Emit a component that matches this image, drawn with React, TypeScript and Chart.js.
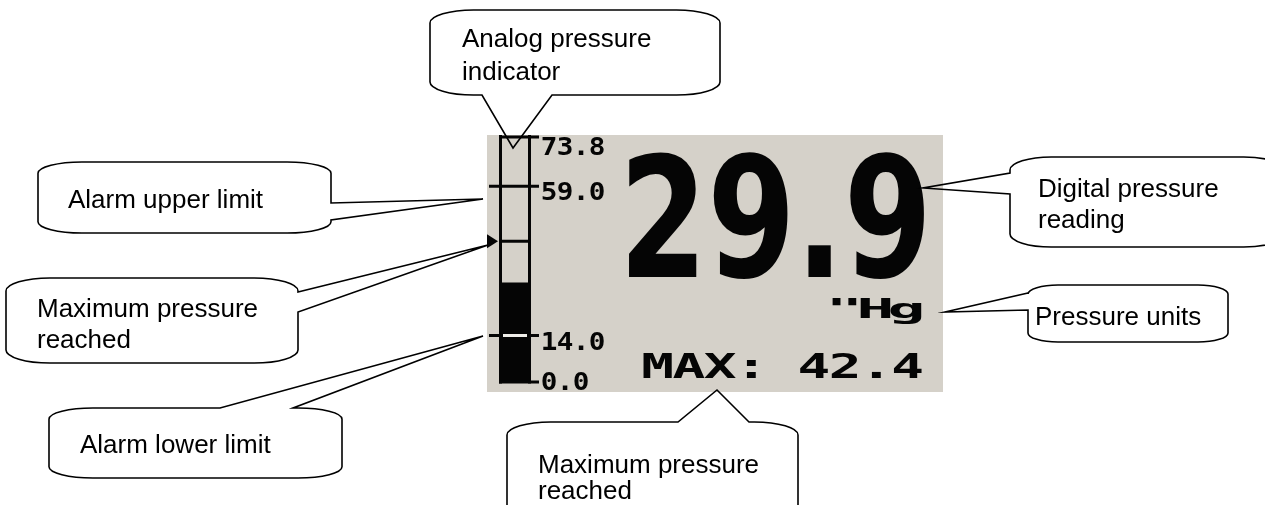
import React, { useEffect, useRef } from "react";
import { Chart, registerables } from "chart.js";

Chart.register(...registerables);

// ---------- data ----------
const gaugeCategories = ["Pressure"];
const currentPressure = [29.9];
const maxPressureReached = 42.4;
const alarmLowerLimit = 14.0;
const alarmUpperLimit = 59.0;
const scaleMin = 0.0;
const scaleMax = 73.8;
const tickValues = [0.0, 14.0, 59.0, 73.8];
const tickLabels = ["0.0", "14.0", "59.0", "73.8"];
const readingText = "29.9";
const unitText = '"Hg';
const maxLineText = "MAX: 42.4";

const calloutAnalog = ["Analog pressure", "indicator"];
const calloutUpper = ["Alarm upper limit"];
const calloutMaxLeft = ["Maximum pressure", "reached"];
const calloutLower = ["Alarm lower limit"];
const calloutDigital = ["Digital pressure", "reading"];
const calloutUnits = ["Pressure units"];
const calloutMaxBottom = ["Maximum pressure", "reached"];

// ---------- layout / style ----------
const W = 1265;
const H = 505;
const PANEL = { x: 487, y: 135, w: 456, h: 257 };
const PANEL_COLOR = "#d5d1c9";
const LCD = "#050505";
const LCD_LIGHT = "#efede8";
const CALLOUT_FONT = "26px 'Liberation Sans', Arial, sans-serif";

type Side = "top" | "bottom" | "left" | "right";
interface Callout {
  box: [number, number, number, number];
  side: Side;
  base: [number, number];
  apex: [number, number];
  lines: string[];
  tx: number;
  baselines: number[];
}

const callouts: Callout[] = [
  { box: [430, 10, 720, 95], side: "bottom", base: [482, 552], apex: [513, 148], lines: calloutAnalog, tx: 462, baselines: [47, 80] },
  { box: [38, 162, 331, 233], side: "right", base: [203, 220], apex: [483, 199], lines: calloutUpper, tx: 68, baselines: [208] },
  { box: [6, 278, 298, 363], side: "right", base: [292, 312], apex: [488, 245], lines: calloutMaxLeft, tx: 37, baselines: [317, 348] },
  { box: [49, 408, 342, 478], side: "top", base: [220, 293], apex: [483, 336], lines: calloutLower, tx: 80, baselines: [453] },
  { box: [1010, 157, 1285, 247], side: "left", base: [173, 194], apex: [923, 188], lines: calloutDigital, tx: 1038, baselines: [197, 228] },
  { box: [1028, 285, 1228, 342], side: "left", base: [293, 310], apex: [945, 312], lines: calloutUnits, tx: 1035, baselines: [325] },
  { box: [507, 422, 798, 520], side: "top", base: [678, 749], apex: [717, 390], lines: calloutMaxBottom, tx: 538, baselines: [473, 499] },
];

function drawCallout(ctx: CanvasRenderingContext2D, c: Callout) {
  const [x1, y1, x2, y2] = c.box;
  const w = x2 - x1;
  const h = y2 - y1;
  const rx = Math.min(w * 0.15, 46);
  const ry = Math.min(h * 0.16, 13);
  const k = 0.55;
  const [a, b] = c.base;
  const [ax, ay] = c.apex;
  ctx.beginPath();
  ctx.moveTo(x1 + rx, y1);
  if (c.side === "top") {
    ctx.lineTo(a, y1);
    ctx.lineTo(ax, ay);
    ctx.lineTo(b, y1);
  }
  ctx.lineTo(x2 - rx, y1);
  ctx.bezierCurveTo(x2 - rx + rx * k, y1, x2, y1 + ry - ry * k, x2, y1 + ry);
  if (c.side === "right") {
    ctx.lineTo(x2, a);
    ctx.lineTo(ax, ay);
    ctx.lineTo(x2, b);
  }
  ctx.lineTo(x2, y2 - ry);
  ctx.bezierCurveTo(x2, y2 - ry + ry * k, x2 - rx + rx * k, y2, x2 - rx, y2);
  if (c.side === "bottom") {
    ctx.lineTo(b, y2);
    ctx.lineTo(ax, ay);
    ctx.lineTo(a, y2);
  }
  ctx.lineTo(x1 + rx, y2);
  ctx.bezierCurveTo(x1 + rx - rx * k, y2, x1, y2 - ry + ry * k, x1, y2 - ry);
  if (c.side === "left") {
    ctx.lineTo(x1, b);
    ctx.lineTo(ax, ay);
    ctx.lineTo(x1, a);
  }
  ctx.lineTo(x1, y1 + ry);
  ctx.bezierCurveTo(x1, y1 + ry - ry * k, x1 + rx - rx * k, y1, x1 + rx, y1);
  ctx.closePath();
  ctx.lineWidth = 1.6;
  ctx.strokeStyle = "#000";
  ctx.stroke();
  ctx.fillStyle = "#000";
  ctx.font = CALLOUT_FONT;
  ctx.textAlign = "left";
  ctx.textBaseline = "alphabetic";
  c.lines.forEach((t, i) => ctx.fillText(t, c.tx, c.baselines[i]));
}

function drawMono(
  ctx: CanvasRenderingContext2D,
  text: string,
  x0: number,
  baseline: number,
  size: number,
  adv: number,
  sx: number
) {
  ctx.font = `bold ${size}px 'DejaVu Sans Mono', monospace`;
  ctx.textAlign = "center";
  ctx.textBaseline = "alphabetic";
  ctx.fillStyle = LCD;
  for (let i = 0; i < text.length; i++) {
    const ch = text[i];
    if (ch === " ") continue;
    ctx.save();
    ctx.translate(x0 + adv * (i + 0.5), baseline);
    ctx.scale(sx, 1);
    ctx.fillText(ch, 0, 0);
    ctx.restore();
  }
}

function line(ctx: CanvasRenderingContext2D, xa: number, ya: number, xb: number, yb: number) {
  ctx.beginPath();
  ctx.moveTo(xa, ya);
  ctx.lineTo(xb, yb);
  ctx.stroke();
}

const backgroundPlugin = {
  id: "lcdBackground",
  beforeDraw(chart: any) {
    const ctx = chart.ctx as CanvasRenderingContext2D;
    ctx.save();
    ctx.fillStyle = "#ffffff";
    ctx.fillRect(0, 0, W, H);
    ctx.fillStyle = PANEL_COLOR;
    ctx.fillRect(PANEL.x, PANEL.y, PANEL.w, PANEL.h);
    ctx.restore();
  },
};

const overlayPlugin = {
  id: "lcdOverlay",
  afterDraw(chart: any) {
    const ctx = chart.ctx as CanvasRenderingContext2D;
    const ys = chart.scales.y;
    const bar = chart.getDatasetMeta(0).data[0] as any;
    const left = bar.x - bar.width / 2;
    const right = bar.x + bar.width / 2;
    const yZero = ys.getPixelForValue(scaleMin);
    const fillTop = ys.getPixelForValue(currentPressure[0]);

    ctx.save();
    ctx.beginPath();
    ctx.rect(PANEL.x, PANEL.y, PANEL.w, PANEL.h);
    ctx.clip();

    ctx.strokeStyle = LCD;
    ctx.lineWidth = 3;
    ctx.lineCap = "butt";
    // tube outline
    line(ctx, left + 1.5, PANEL.y, left + 1.5, yZero + 1.5);
    line(ctx, right - 1.5, PANEL.y, right - 1.5, yZero + 1.5);

    // ticks and labels
    tickValues.forEach((v, i) => {
      const y = ys.getPixelForValue(v);
      const isAlarm = v === alarmLowerLimit || v === alarmUpperLimit;
      ctx.strokeStyle = LCD;
      ctx.lineWidth = 3;
      line(ctx, isAlarm ? left - 10 : left, y, right + 8, y);
      if (isAlarm && y > fillTop && y < yZero - 3) {
        ctx.strokeStyle = LCD_LIGHT;
        line(ctx, left + 4, y, right - 4, y);
      }
      const top = Math.min(Math.max(y - 4, PANEL.y + 2), PANEL.y + PANEL.h - 20);
      drawMono(ctx, tickLabels[i], 541, top + 18, 24.7, 16, 1.12);
    });

    // maximum pressure marker
    const yMax = ys.getPixelForValue(maxPressureReached);
    ctx.strokeStyle = LCD;
    ctx.lineWidth = 3;
    line(ctx, left, yMax, right, yMax);
    ctx.fillStyle = LCD;
    ctx.beginPath();
    ctx.moveTo(left - 12, yMax - 7);
    ctx.lineTo(left - 12, yMax + 7);
    ctx.lineTo(left - 1, yMax);
    ctx.closePath();
    ctx.fill();

    // digital reading
    ctx.save();
    ctx.fillStyle = LCD;
    ctx.font = "bold 167px 'DejaVu Sans', sans-serif";
    ctx.textAlign = "left";
    ctx.textBaseline = "alphabetic";
    ctx.translate(619, 277);
    ctx.scale(0.76, 1);
    ctx.fillText(readingText, 0, 0);
    ctx.restore();

    // units and max line
    drawMono(ctx, unitText, 829, 318, 27.4, 31, 2.3);
    drawMono(ctx, maxLineText, 642, 378, 34, 31.25, 1.6);
    ctx.restore();

    // callouts
    ctx.save();
    callouts.forEach((c) => drawCallout(ctx, c));
    ctx.restore();
  },
};

export default function App() {
  const canvasRef = useRef<HTMLCanvasElement | null>(null);

  useEffect(() => {
    const canvas = canvasRef.current;
    if (!canvas) return;
    const chart = new Chart(canvas, {
      type: "bar",
      data: {
        labels: gaugeCategories,
        datasets: [
          {
            data: currentPressure,
            backgroundColor: LCD,
            borderWidth: 0,
            barPercentage: 1,
            categoryPercentage: 1,
          },
        ],
      },
      options: {
        responsive: false,
        animation: false,
        devicePixelRatio: 1,
        events: [],
        layout: { padding: { left: 499, right: W - 531, top: 137, bottom: H - 382 } },
        scales: {
          x: { display: false },
          y: { display: false, min: scaleMin, max: scaleMax },
        },
        plugins: {
          legend: { display: false },
          tooltip: { enabled: false },
          title: { display: false },
        },
      },
      plugins: [backgroundPlugin, overlayPlugin],
    } as any);
    return () => chart.destroy();
  }, []);

  return (
    <div style={{ position: "absolute", left: 0, top: 0, width: W, height: H, background: "#fff" }}>
      <canvas ref={canvasRef} width={W} height={H} style={{ display: "block", width: W, height: H }} />
    </div>
  );
}
